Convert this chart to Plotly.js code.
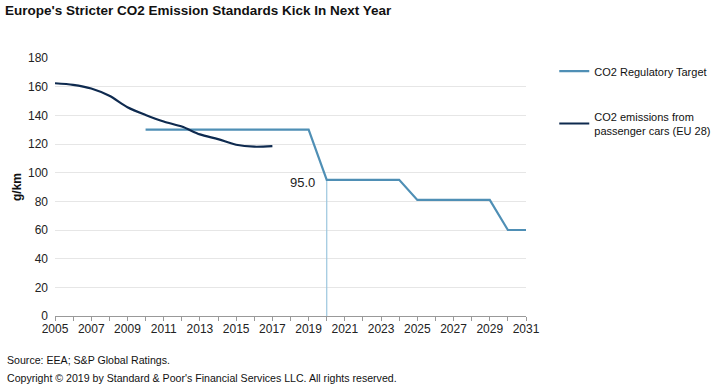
<!DOCTYPE html>
<html><head><meta charset="utf-8">
<script src="https://cdn.plot.ly/plotly-3.0.1.min.js"></script>
<style>body{margin:0;padding:0;background:#fff}#chart{width:712px;height:392px}</style>
</head><body><div id="chart"></div>
<script>
const targetYears = [2010,2011,2012,2013,2014,2015,2016,2017,2018,2019,2020,2021,2022,2023,2024,2025,2026,2027,2028,2029,2030,2031];
const targetValues = [130,130,130,130,130,130,130,130,130,130,95,95,95,95,95,81,81,81,81,81,60,60];
const emissionYears = [2005,2006,2007,2008,2009,2010,2011,2012,2013,2014,2015,2016,2017];
const emissionValues = [162.4,161.3,158.7,153.6,145.7,140.3,135.7,132.2,126.7,123.4,119.5,118.1,118.5];
const markerYear = 2020;
const markerValue = 95.0;
const tickYears = [2005,2007,2009,2011,2013,2015,2017,2019,2021,2023,2025,2027,2029,2031];

const font = 'Liberation Sans, Arial, sans-serif';
const traces = [
  {x:[markerYear, markerYear], y:[markerValue, 0], mode:'lines', line:{color:'#9cc6de', width:1.2}, showlegend:false, hoverinfo:'skip'},
  {x:targetYears, y:targetValues, mode:'lines', name:'CO2 Regulatory Target', legendgroup:'a', line:{color:'#4f8fb5', width:2.2}},
  {x:emissionYears, y:emissionValues, mode:'lines', name:'CO2 emissions from<br>passenger cars (EU 28)', legendgroup:'b', line:{color:'#0e2a4f', width:2.2, shape:'spline', smoothing:0.8}}
];
const layout = {
  width:712, height:392,
  margin:{l:55, r:186, t:58, b:76, autoexpand:false},
  paper_bgcolor:'#fff', plot_bgcolor:'#fff',
  font:{family:font, size:12, color:'#222'},
  showlegend:true,
  legend:{x:1.06, y:1.005, xanchor:'left', yanchor:'top', traceorder:'grouped', tracegroupgap:27, font:{family:font, size:11, color:'#111'}, itemwidth:30, bgcolor:'rgba(0,0,0,0)'},
  xaxis:{range:[2005,2031], tickvals:tickYears, ticktext:tickYears.map(String), showgrid:false, zeroline:false,
    showline:true, linecolor:'#999', linewidth:1, ticks:'outside', ticklen:4, tickcolor:'#999', ticklabelstandoff:-2,
    minor:{dtick:1, tick0:2005, ticks:'outside', ticklen:4, tickcolor:'#999'},
    tickfont:{family:font, size:12, color:'#222'}},
  yaxis:{range:[0,180], dtick:20, showgrid:true, gridcolor:'#e6e6e6', zeroline:false, showline:false,
    tickfont:{family:font, size:12, color:'#222'}, ticks:'', ticklabelstandoff:6,
    title:{text:'<b>g/km</b>', font:{family:font, size:12, color:'#111'}, standoff:3}},
  title:{text:"<b>Europe's Stricter CO2 Emission Standards Kick In Next Year</b>", x:0.007, xanchor:'left', y:0.985, yanchor:'top', font:{family:font, size:13.5, color:'#111'}},
  annotations:[
    {x:markerYear, y:markerValue, xref:'x', yref:'y', text:markerValue.toFixed(1), showarrow:false, xanchor:'right', yanchor:'middle', xshift:-10, yshift:-3, font:{family:font, size:13, color:'#222'}},
    {x:-0.106, y:-0.1705, xref:'paper', yref:'paper', xanchor:'left', yanchor:'middle', showarrow:false, text:'Source: EEA; S&P Global Ratings.', font:{family:font, size:10.6, color:'#111'}},
    {x:-0.106, y:-0.240, xref:'paper', yref:'paper', xanchor:'left', yanchor:'middle', showarrow:false, text:"Copyright © 2019 by Standard & Poor's Financial Services LLC. All rights reserved.", font:{family:font, size:10.6, color:'#111'}}
  ]
};
Plotly.newPlot('chart', traces, layout, {displayModeBar:false, staticPlot:true});
</script></body></html>
